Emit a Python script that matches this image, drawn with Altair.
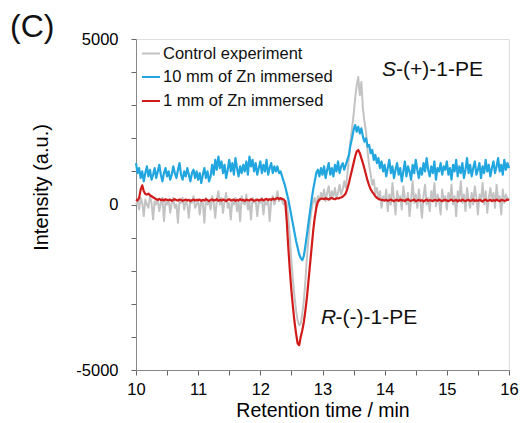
import altair as alt
import pandas as pd

# time grid (min), 0.025 min sampling
TIME = [round(10 + 0.025 * i, 3) for i in range(241)]

CONTROL = [
    0, 100, -150, 200, 50, -350, 150, 0, -100, 250,
    50, -450, 100, 0, 150, -200, 50, 200, -500, 100,
    0, 150, -250, 50, 200, -100, 0, -550, 150, 50,
    200, -150, 100, 0, -400, 150, 50, 250, -100, 0,
    150, -300, 100, 50, -550, 200, 0, 100, -150, 250,
    50, -400, 150, 400, 0, 200, -250, 100, 350, -100,
    50, -450, 150, 0, 200, -200, 100, -500, 250, 50,
    0, 300, -150, 100, -450, 200, 50, 150, -350, 100,
    50, 200, -300, 100, 0, 150, -500, 100, 250, 0,
    150, 400, 100, 200, 100, 0, 100, 0, -400, -1000,
    -1700, -2300, -2800, -3200, -3500, -3650, -3600, -3300, -2900, -2300,
    -1600, -1000, -500, -150, 100, 200, -100, 250, 100, 350,
    200, 450, 100, 350, 550, 150, 400, 250, 500, 200,
    350, 600, 300, 450, 700, 500, 900, 1400, 1900, 2300,
    2700, 3200, 3600, 3850, 3300, 3700, 2900, 2500, 2200, 1600,
    1200, 900, 600, 750, 350, 500, 150, 400, -100, 250,
    100, 450, -200, 300, 0, 650, 150, -300, 400, 100,
    250, -150, 550, 200, 0, 350, -350, 150, 700, 50,
    300, -100, 450, 100, -400, 250, 600, 0, 200, -200,
    400, 100, 650, -50, 300, 150, -300, 450, 100, 250,
    -150, 350, 100, 600, 0, 250, -350, 400, 150, 700,
    50, 300, -200, 500, 150, -100, 350, 0, 550, 200,
    -300, 300, 100, 650, 0, 400, -250, 200, 500, 100,
    350, -100, 600, 150, 250, -300, 450, 50, 300, 150, 200,
]

ZN10 = [
    1250, 950, 1100, 800, 1000, 700, 950, 1150, 850, 1050,
    750, 900, 1100, 800, 1000, 1200, 900, 700, 950, 1100,
    850, 1000, 750, 900, 1150, 950, 800, 1050, 1250, 900,
    750, 1000, 850, 1100, 900, 700, 950, 1050, 800, 1000,
    750, 950, 650, 900, 1100, 800, 1000, 700, 850, 1200,
    900, 1350, 1050, 1450, 1100, 1300, 950, 1200, 800, 1050,
    1350, 1000, 1250, 900, 1400, 1100, 850, 1150, 950, 1200,
    1000, 1300, 900, 1450, 1150, 1350, 1000, 1250, 900, 1100,
    1300, 950, 1200, 1000, 1350, 900, 1100, 1250, 950, 1150,
    1000, 1150, 950, 1000, 850, 700, 550, 350, 150, -100,
    -350, -600, -850, -1100, -1300, -1500, -1620, -1680, -1550, -1250,
    -900, -550, -200, 150, 450, 700, 950, 1050, 850, 1100,
    900, 1150, 800, 1050, 1250, 900, 1100, 850, 1200, 1000,
    1300, 950, 1150, 1250, 1050, 1200, 1350, 1500, 1800, 2000,
    2250, 2400, 2200, 2350, 2150, 2300, 2050, 1900, 2000, 1750,
    1800, 1550, 1650, 1350, 1500, 1250, 1400, 1100, 1300, 1000,
    1200, 850, 1100, 1350, 950, 1150, 800, 1050, 1250, 900,
    1100, 700, 1000, 1300, 850, 1150, 1000, 750, 1200, 950,
    1350, 1050, 800, 1100, 900, 1250, 1000, 1400, 1050, 850,
    1150, 950, 1300, 750, 1100, 1000, 1250, 900, 1150, 1050,
    1300, 900, 1100, 750, 1200, 1000, 1350, 850, 1150, 950,
    1250, 800, 1050, 1400, 950, 1200, 850, 1100, 1300, 900,
    1050, 1250, 800, 1150, 950, 1350, 1000, 1200, 850, 1100,
    1300, 950, 1150, 1400, 1000, 1200, 900, 1350, 1050, 1250, 1100,
]

ZN1 = [
    150, 120, 200, 450, 580, 400, 320, 300, 330, 280,
    250, 220, 190, 160, 140, 170, 130, 150, 120, 160,
    140, 130, 150, 110, 140, 160, 130, 120, 150, 140,
    110, 130, 150, 120, 140, 100, 130, 150, 120, 140,
    130, 150, 110, 140, 120, 160, 130, 100, 140, 150,
    120, 130, 160, 110, 140, 120, 150, 130, 100, 140,
    160, 120, 130, 150, 110, 140, 120, 160, 130, 140,
    110, 150, 130, 120, 160, 140, 110, 130, 150, 120,
    140, 160, 120, 150, 170, 130, 160, 140, 180, 150,
    170, 200, 160, 190, 170, 150, 100, -500, -1300, -2000,
    -2600, -3100, -3550, -3900, -4200, -4250, -4000, -3800, -3550, -3200,
    -2800, -2300, -1800, -1300, -800, -400, -100, 80, 150, 170,
    180, 160, 190, 170, 150, 180, 200, 170, 160, 190,
    180, 200, 210, 240, 280, 340, 480, 650, 850, 1050,
    1250, 1450, 1600, 1650, 1550, 1400, 1250, 1080, 900, 720,
    580, 460, 380, 320, 250, 200, 170, 150, 140, 130,
    120, 140, 110, 130, 150, 120, 100, 130, 140, 110,
    150, 120, 130, 100, 140, 160, 120, 110, 130, 150,
    100, 120, 140, 110, 130, 90, 120, 150, 110, 130,
    120, 100, 140, 130, 110, 150, 120, 100, 130, 140,
    120, 100, 130, 150, 110, 120, 140, 90, 130, 110,
    150, 120, 100, 130, 140, 110, 120, 150, 100, 130,
    110, 140, 120, 90, 130, 150, 110, 120, 140, 100,
    130, 110, 150, 120, 100, 140, 130, 110, 120, 150, 130,
]

SERIES = ["Control experiment", "10 mm of Zn immersed", "1 mm of Zn immersed"]
COLORS = ["#c3c3c3", "#22a6df", "#d11a1a"]
WIDTHS = [2, 2.2, 2.2]
VALUES = [CONTROL, ZN10, ZN1]

X_TICKS = [10 + 0.5 * i for i in range(13)]
Y_TICKS = [-5000 + 1000 * i for i in range(11)]

FONT = "Liberation Sans"
W, H = 373, 331

x_axis = alt.Axis(
    values=X_TICKS,
    labelExpr="datum.value % 1 === 0 ? toString(datum.value) : ''",
    grid=False, ticks=True, tickSize=5, tickWidth=1, tickColor="#666",
    labelPadding=6, labelFontSize=16.5, labelFlush=False, labelOverlap=False,
    title="Retention time / min", titleFontSize=19.5, titleFontWeight="normal",
    titleX=W / 2, titleY=46, titleBaseline="alphabetic", titleAlign="center",
)
y_axis = alt.Axis(
    values=Y_TICKS,
    labelExpr="abs(datum.value) % 5000 === 0 ? toString(datum.value) : ''",
    grid=False, ticks=True, tickSize=5, tickWidth=1, tickColor="#666",
    labelPadding=13, labelFontSize=16.5, labelFlush=False, labelOverlap=False,
    title="Intensity (a.u.)", titleFontSize=20, titleFontWeight="normal",
    titleX=-89, titleY=148, titleAngle=270, titleBaseline="alphabetic",
    titleAlign="center",
)

xs = alt.Scale(domain=[10, 16], nice=False)
ys = alt.Scale(domain=[-5000, 5000], nice=False)

layers = []
for i, (name, vals) in enumerate(zip(SERIES, VALUES)):
    df = pd.DataFrame({"t": TIME, "v": vals})
    layers.append(
        alt.Chart(df).mark_line(color=COLORS[i], strokeWidth=WIDTHS[i],
                                strokeJoin="round").encode(
            x=alt.X("t:Q", scale=xs, axis=x_axis),
            y=alt.Y("v:Q", scale=ys, axis=y_axis),
        )
    )

one = pd.DataFrame({"a": [0]})
LEG_Y = [14.5, 38, 62]
for name, col, ly in zip(SERIES, COLORS, LEG_Y):
    layers.append(alt.Chart(one).mark_rule(color=col, strokeWidth=2).encode(
        x=alt.value(6), x2=alt.value(24), y=alt.value(ly)))
    layers.append(alt.Chart(one).mark_text(
        text=name, align="left", baseline="middle", font=FONT, fontSize=16.5,
        color="#111").encode(x=alt.value(27), y=alt.value(ly)))

def label(txt, x, y, size, style="normal", align="left", baseline="middle"):
    return alt.Chart(one).mark_text(
        text=txt, align=align, baseline=baseline, font=FONT, fontSize=size,
        fontStyle=style, color="#111").encode(x=alt.value(x), y=alt.value(y))

layers.append(label("S", 246, 31, 21, "italic"))
layers.append(label("-(+)-1-PE", 260, 31, 21))
layers.append(label("R", 185, 279, 21, "italic"))
layers.append(label("-(-)-1-PE", 199.5, 279, 21))
layers.append(label("(C)", -126, -2, 32, baseline="alphabetic"))

chart = alt.layer(*layers).resolve_axis(x="shared", y="shared").properties(
    width=W, height=H,
    autosize=alt.AutoSizeParams(type="none"),
    padding={"left": 128, "top": 31, "right": 14, "bottom": 52},
).configure_view(stroke="#8a8a8a", strokeWidth=1).configure_axis(
    domainColor="#8a8a8a", labelColor="#111",
    titleColor="#111", labelFont=FONT, titleFont=FONT,
).configure(background="white")

chart.save("out.html", embed_options={"renderer": "svg", "actions": False})
